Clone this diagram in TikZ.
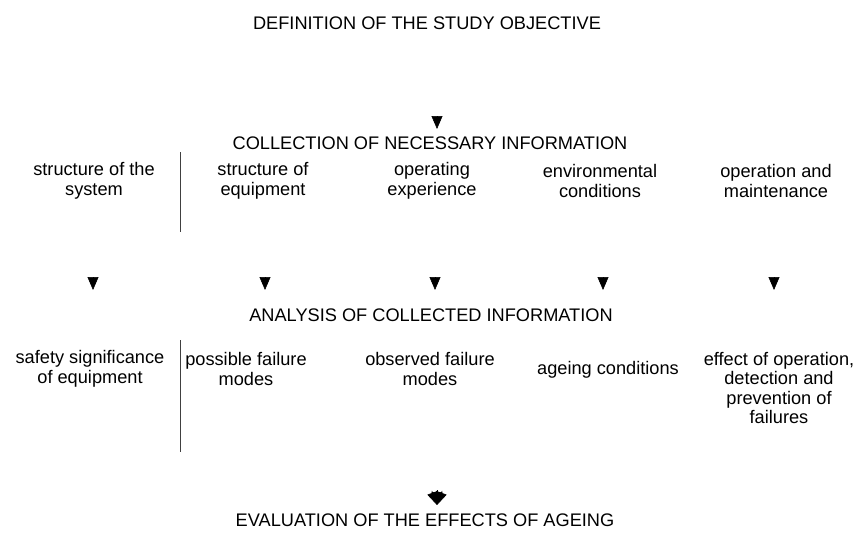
\documentclass[tikz,border=0pt]{standalone}
\usepackage{fontspec}
\setmainfont{Liberation Sans}
\usetikzlibrary{arrows.meta}

\begin{document}
\begin{tikzpicture}[x=1pt,y=-1pt,semithick,
    txt/.style={align=center,inner sep=0pt,font=\fontsize{18.2}{19.5}\selectfont},
    head/.style={txt},
    tip/.style={-{Triangle[width=11pt,length=13pt]}},
    rule/.style={line width=0.7pt,black!75}]
    \useasboundingbox (0,0) rectangle (855,542);

    \node[head] (objective) at (427,23)  {DEFINITION OF THE STUDY OBJECTIVE};
    \node[head] (collect)   at (430,143) {COLLECTION OF NECESSARY INFORMATION};
    \node[head] (analysis)  at (431,315) {ANALYSIS OF COLLECTED INFORMATION};
    \node[head] (evaluate)  at (425,520) {EVALUATION OF THE EFFECTS OF AGEING};

    % collected information
    \node[txt] (system)  at (94,181)  {structure of the\\system};
    \node[txt] (equip)   at (263,181) {structure of\\equipment};
    \node[txt] (exper)   at (432,181) {operating\\experience};
    \node[txt] (environ) at (600,181) {environmental\\conditions};
    \node[txt] (operat)  at (776,181) {operation and\\maintenance};

    % analysed information
    \node[txt] (safety)   at (90,369)  {safety significance\\of equipment};
    \node[txt] (possible) at (246,369) {possible failure\\modes};
    \node[txt] (observed) at (430,369) {observed failure\\modes};
    \node[txt] (ageing)   at (608,370) {ageing conditions};
    \node[txt] (effect)   at (779,388) {effect of operation,\\detection and\\prevention of\\failures};

    % arrow heads
    \coordinate (a0) at (437,129);
    \draw[tip] (a0) ++(0,-13) -- (a0);
    \foreach \n/\x in {1/93,2/265,3/435,4/603,5/774} {
        \coordinate (b\n) at (\x,290);
        \draw[tip] (\x,277) -- (b\n);
    }
    \coordinate (c0) at (437,505);
    \draw[tip] (c0) ++(0,-15) -- (c0);
    \draw[tip] (c0) ++(250:15) -- (c0);
    \draw[tip] (c0) ++(290:15) -- (c0);

    % separators
    \coordinate (s1) at (180,152);
    \coordinate (s2) at (180,232);
    \coordinate (s3) at (180,340);
    \coordinate (s4) at (180,452);
    \draw[rule] (s1) -- (s2);
    \draw[rule] (s3) -- (s4);
\end{tikzpicture}
\end{document}
